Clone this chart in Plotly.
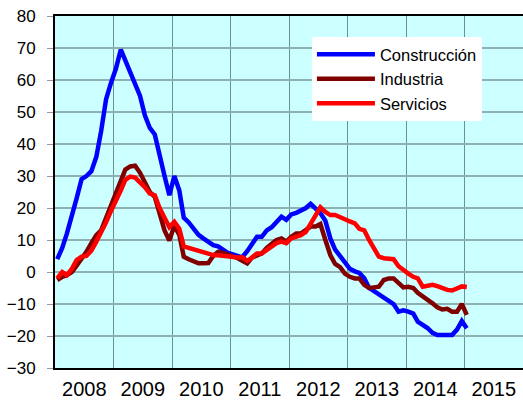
import plotly.graph_objects as go
import pandas as pd

months = pd.date_range("2008-01-01", periods=85, freq="MS") + pd.Timedelta(days=14)

construccion = [4, 7.5, 12, 17, 23, 29, 30, 31.5, 36, 44, 54, 59, 63.5, 69.5, 66, 62, 58.5, 55, 49, 45,
                43, 36, 30, 24, 30, 25.5, 17, 15.5, 13.5, 11.6, 10.5, 9.3, 8.4, 8, 7, 6, 5.5, 5, 4.6, 6.5,
                8.5, 11, 11, 13, 14, 15.5, 17.3, 16.3, 18, 18.5, 19.2, 20, 21.3, 20, 18.4, 16, 10.5, 7, 4.8, 2.8,
                1, 0.2, -0.3, -2, -5, -6, -7, -8, -8.7, -10, -12.4, -12, -12.4, -13, -15.5, -16.5, -17.5, -19, -19.7, -19.7,
                -19.7, -19.7, -18, -15.3, -17.6]

industria = [-2.5, -1.5, -1, 0, 2, 4, 6.3, 9, 11.5, 13, 17, 21, 24.5, 29, 32, 33, 33.2, 31, 28, 25,
             23.5, 18, 13, 9.8, 14.5, 11.6, 4.8, 4, 3.2, 2.7, 2.7, 2.8, 5, 6.3, 6, 5.5, 4.8, 4.3, 3.5, 2.7,
             4.5, 5, 5.8, 7.5, 9, 10, 10.5, 9.5, 11, 12, 12, 13, 14.2, 14.2, 15, 10, 5.3, 2.5, 1.5, -0.5,
             -1.5, -2, -2, -4, -5, -4.8, -4.6, -2.5, -2, -2, -3.5, -4.8, -4.6, -5, -6.5, -7.5, -8.5, -9.8, -11, -11.7,
             -11.5, -12.4, -12.4, -10, -13.4]

servicios = [-2, 0, -1, 1, 3.7, 4.8, 5, 6.7, 9.5, 12.2, 15.5, 19, 22, 25.5, 28.8, 29.8, 29.5, 28, 26.5, 24.5,
             24, 20, 17, 14, 15.7, 13.5, 8, 7.5, 7, 6.5, 6, 5.8, 5.3, 5.2, 5, 4.8, 4.5, 4.5, 4.6, 3.5,
             4.5, 5.8, 5.8, 7, 8, 9, 9.5, 9, 10.5, 11, 11.5, 12.5, 15, 17.3, 20.2, 18.8, 17.8, 17.8, 17.3, 16.5,
             15.8, 15.2, 13.5, 13, 10, 7, 4.8, 4.3, 4.3, 4, 1.8, 0.5, -0.5, -1.5, -2, -4.6, -4.3, -4, -4.4, -5,
             -5.6, -5.8, -5, -4.5, -4.7]

series_names = ["Construcción", "Industria", "Servicios"]
series_colors = ["#0000FF", "#800000", "#FF0000"]
series_values = [construccion, industria, servicios]

FONT = "Liberation Sans, Arial, sans-serif"

fig = go.Figure()
for name, color, vals in zip(series_names, series_colors, series_values):
    fig.add_trace(go.Scatter(x=months, y=vals, name=name, mode="lines",
                             line=dict(color=color, width=4.5)))

fig.add_shape(type="line", xref="paper", x0=0, x1=1, yref="y", y0=-20, y1=-20,
              line=dict(color="black", width=1.5), layer="below")

fig.update_layout(
    width=523, height=400,
    margin=dict(l=55, r=0, t=16, b=32),
    paper_bgcolor="white",
    plot_bgcolor="#CCFFFF",
    font=dict(family=FONT, size=17, color="black"),
    showlegend=True,
    legend=dict(x=0.549, y=0.94, xanchor="left", yanchor="top",
                bgcolor="white", borderwidth=0, font=dict(size=16.5),
                tracegroupgap=0, itemwidth=58),
    xaxis=dict(
        type="date",
        range=["2008-01-01", "2016-01-01"],
        dtick="M12", tick0="2008-01-01",
        tickformat="%Y", ticklabelmode="period",
        showgrid=True, gridcolor="#6f9090", gridwidth=1,
        ticks="", showline=True, linecolor="black", linewidth=2, mirror=True,
        tickfont=dict(size=20), automargin=False, ticklabelstandoff=2,
    ),
    yaxis=dict(
        range=[-30, 80], dtick=10, tick0=0,
        showgrid=True, gridcolor="#8fb0b0", gridwidth=1.5,
        zeroline=False,
        ticks="outside", ticklen=6, tickcolor="#999999", tickwidth=1,
        showline=True, linecolor="black", linewidth=2,
        ticklabelstandoff=8,
        tickfont=dict(size=17), automargin=False,
    ),
)

fig.write_html("out.html",
               config={"displayModeBar": False},
               post_script="document.body.style.margin='0';document.body.style.overflow='hidden';")
